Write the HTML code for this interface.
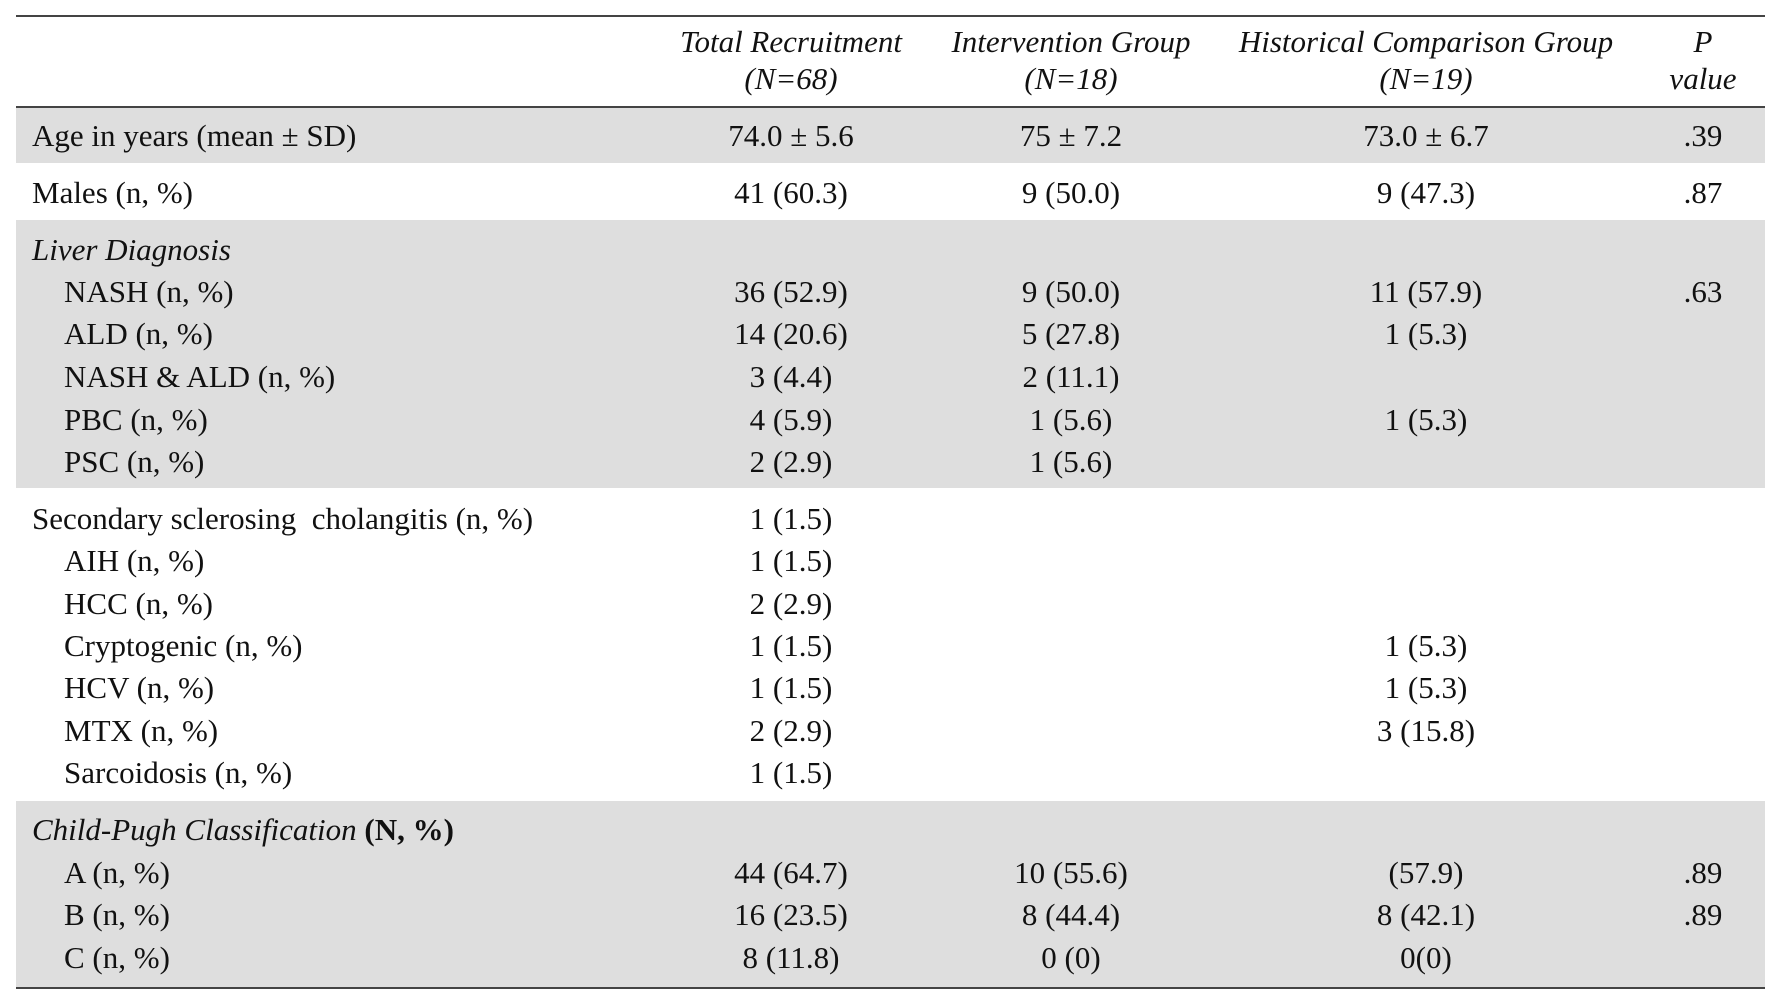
<!DOCTYPE html>
<html><head><meta charset="utf-8"><style>
body{margin:0;width:1780px;height:1003px;background:#fff;position:relative;overflow:hidden;font-family:"Liberation Serif",serif;font-size:31px;color:#111}
.t{position:absolute;white-space:nowrap;transform:translateY(-50%)}
.c{transform:translate(-50%,-50%);text-align:center}
.i{font-style:italic}
.band{position:absolute;left:16px;width:1749px;background:#dedede}
.line{position:absolute;left:16px;width:1749px;height:2px;background:#444}
</style></head><body>
<div class="band" style="top:108px;height:55px"></div>
<div class="band" style="top:220px;height:268px"></div>
<div class="band" style="top:801px;height:187px"></div>
<div class="line" style="top:15px"></div>
<div class="line" style="top:106px"></div>
<div class="line" style="top:987px"></div>

<div class="t c i" style="left:791px;top:42px">Total Recruitment</div>
<div class="t c i" style="left:791px;top:79px">(N=68)</div>
<div class="t c i" style="left:1071px;top:42px">Intervention Group</div>
<div class="t c i" style="left:1071px;top:79px">(N=18)</div>
<div class="t c i" style="left:1426px;top:42px">Historical Comparison Group</div>
<div class="t c i" style="left:1426px;top:79px">(N=19)</div>
<div class="t c i" style="left:1703px;top:42px">P</div>
<div class="t c i" style="left:1703px;top:79px">value</div>

<div class="t" style="left:32px;top:136px">Age in years (mean ± SD)</div>
<div class="t c" style="left:791px;top:136px">74.0 ± 5.6</div>
<div class="t c" style="left:1071px;top:136px">75 ± 7.2</div>
<div class="t c" style="left:1426px;top:136px">73.0 ± 6.7</div>
<div class="t c" style="left:1703px;top:136px">.39</div>

<div class="t" style="left:32px;top:193px">Males (n, %)</div>
<div class="t c" style="left:791px;top:193px">41 (60.3)</div>
<div class="t c" style="left:1071px;top:193px">9 (50.0)</div>
<div class="t c" style="left:1426px;top:193px">9 (47.3)</div>
<div class="t c" style="left:1703px;top:193px">.87</div>

<div class="t i" style="left:32px;top:250px">Liver Diagnosis</div>
<div class="t" style="left:64px;top:292px">NASH (n, %)</div>
<div class="t c" style="left:791px;top:292px">36 (52.9)</div>
<div class="t c" style="left:1071px;top:292px">9 (50.0)</div>
<div class="t c" style="left:1426px;top:292px">11 (57.9)</div>
<div class="t c" style="left:1703px;top:292px">.63</div>
<div class="t" style="left:64px;top:334px">ALD (n, %)</div>
<div class="t c" style="left:791px;top:334px">14 (20.6)</div>
<div class="t c" style="left:1071px;top:334px">5 (27.8)</div>
<div class="t c" style="left:1426px;top:334px">1 (5.3)</div>
<div class="t" style="left:64px;top:377px">NASH &amp; ALD (n, %)</div>
<div class="t c" style="left:791px;top:377px">3 (4.4)</div>
<div class="t c" style="left:1071px;top:377px">2 (11.1)</div>
<div class="t" style="left:64px;top:420px">PBC (n, %)</div>
<div class="t c" style="left:791px;top:420px">4 (5.9)</div>
<div class="t c" style="left:1071px;top:420px">1 (5.6)</div>
<div class="t c" style="left:1426px;top:420px">1 (5.3)</div>
<div class="t" style="left:64px;top:462px">PSC (n, %)</div>
<div class="t c" style="left:791px;top:462px">2 (2.9)</div>
<div class="t c" style="left:1071px;top:462px">1 (5.6)</div>

<div class="t" style="left:32px;top:519px">Secondary sclerosing&nbsp; cholangitis (n, %)</div>
<div class="t c" style="left:791px;top:519px">1 (1.5)</div>
<div class="t" style="left:64px;top:561px">AIH (n, %)</div>
<div class="t c" style="left:791px;top:561px">1 (1.5)</div>
<div class="t" style="left:64px;top:604px">HCC (n, %)</div>
<div class="t c" style="left:791px;top:604px">2 (2.9)</div>
<div class="t" style="left:64px;top:646px">Cryptogenic (n, %)</div>
<div class="t c" style="left:791px;top:646px">1 (1.5)</div>
<div class="t c" style="left:1426px;top:646px">1 (5.3)</div>
<div class="t" style="left:64px;top:688px">HCV (n, %)</div>
<div class="t c" style="left:791px;top:688px">1 (1.5)</div>
<div class="t c" style="left:1426px;top:688px">1 (5.3)</div>
<div class="t" style="left:64px;top:731px">MTX (n, %)</div>
<div class="t c" style="left:791px;top:731px">2 (2.9)</div>
<div class="t c" style="left:1426px;top:731px">3 (15.8)</div>
<div class="t" style="left:64px;top:773px">Sarcoidosis (n, %)</div>
<div class="t c" style="left:791px;top:773px">1 (1.5)</div>

<div class="t" style="left:32px;top:830px"><i>Child-Pugh Classification</i> <b>(N, %)</b></div>
<div class="t" style="left:64px;top:873px">A (n, %)</div>
<div class="t c" style="left:791px;top:873px">44 (64.7)</div>
<div class="t c" style="left:1071px;top:873px">10 (55.6)</div>
<div class="t c" style="left:1426px;top:873px">(57.9)</div>
<div class="t c" style="left:1703px;top:873px">.89</div>
<div class="t" style="left:64px;top:915px">B (n, %)</div>
<div class="t c" style="left:791px;top:915px">16 (23.5)</div>
<div class="t c" style="left:1071px;top:915px">8 (44.4)</div>
<div class="t c" style="left:1426px;top:915px">8 (42.1)</div>
<div class="t c" style="left:1703px;top:915px">.89</div>
<div class="t" style="left:64px;top:958px">C (n, %)</div>
<div class="t c" style="left:791px;top:958px">8 (11.8)</div>
<div class="t c" style="left:1071px;top:958px">0 (0)</div>
<div class="t c" style="left:1426px;top:958px">0(0)</div>
</body></html>
